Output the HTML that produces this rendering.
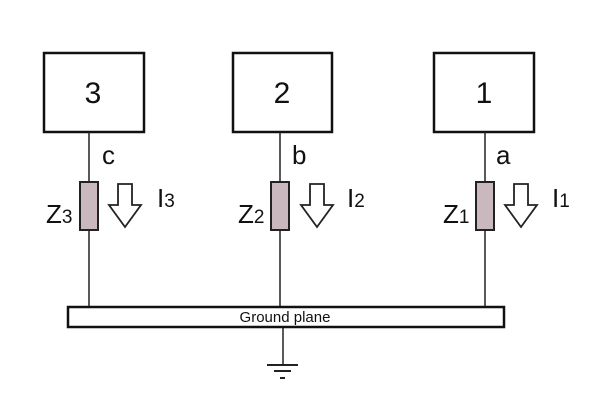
<!DOCTYPE html>
<html><head><style>body{margin:0;background:#fff}</style></head><body>
<svg width="604" height="402" xmlns="http://www.w3.org/2000/svg" font-family="Liberation Sans, sans-serif">
<rect width="604" height="402" fill="#fff"/>
<g stroke="#111" stroke-width="2.5" fill="none">
<rect x="44" y="53" width="100" height="79"/>
<rect x="233" y="53" width="99" height="79"/>
<rect x="434" y="53" width="100" height="79"/>
</g>
<g stroke="#222" stroke-width="1.5">
<line x1="89" y1="132" x2="89" y2="307"/>
<line x1="280" y1="132" x2="280" y2="307"/>
<line x1="485" y1="132" x2="485" y2="307"/>
<line x1="283" y1="327" x2="283" y2="365"/>
</g>
<g fill="#c9b8bd" stroke="#222" stroke-width="2">
<rect x="80" y="182" width="18" height="48"/>
<rect x="271" y="182" width="18" height="48"/>
<rect x="476" y="182" width="18" height="48"/>
</g>
<g fill="#fff" stroke="#222" stroke-width="1.8">
<path d="M118 184h14v21h9l-16 22l-16-22h9z"/>
<path d="M310 184h14v21h9l-16 22l-16-22h9z"/>
<path d="M514 184h14v21h9l-16 22l-16-22h9z"/>
</g>
<rect x="68" y="307" width="436" height="20" fill="#fff" stroke="#111" stroke-width="2.5"/>
<text x="285" y="322" font-size="15" text-anchor="middle" fill="#111">Ground plane</text>
<g stroke="#222" stroke-width="2">
<line x1="267" y1="365" x2="298" y2="365"/>
<line x1="274" y1="371" x2="291" y2="371"/>
<line x1="280" y1="378" x2="285" y2="378"/>
</g>
<g fill="#111" font-size="30" text-anchor="middle">
<text x="93" y="103">3</text><text x="282" y="103">2</text><text x="484" y="103">1</text>
</g>
<g fill="#111" font-size="26">
<text x="102" y="164">c</text><text x="292" y="164">b</text><text x="496" y="164">a</text>
<text x="46" y="223">Z<tspan font-size="19">3</tspan></text>
<text x="238" y="223">Z<tspan font-size="19">2</tspan></text>
<text x="443" y="223">Z<tspan font-size="19">1</tspan></text>
<text x="157" y="207">I<tspan font-size="19">3</tspan></text>
<text x="347" y="207">I<tspan font-size="19">2</tspan></text>
<text x="552" y="207">I<tspan font-size="19">1</tspan></text>
</g>
</svg>
</body></html>
